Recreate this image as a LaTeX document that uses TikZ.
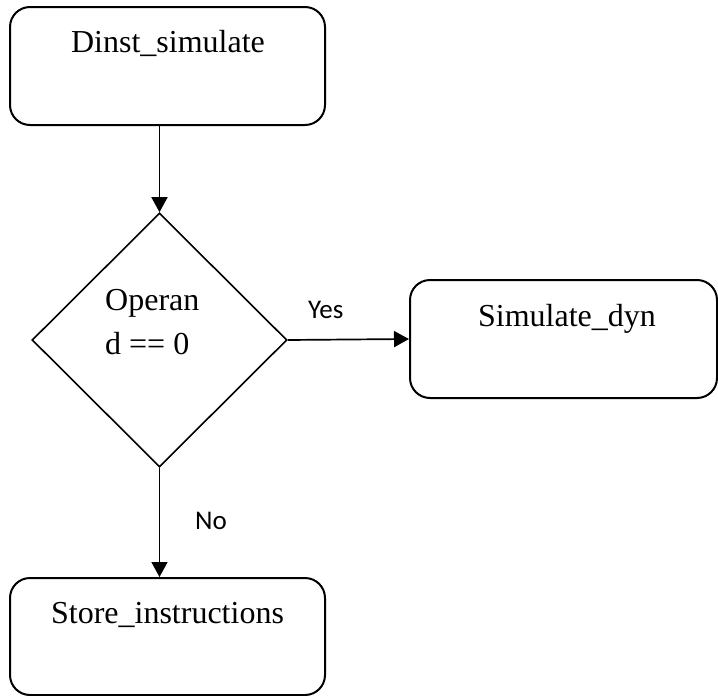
\documentclass[tikz,border=0pt]{standalone}
\usepackage{fontspec}
\setmainfont{Liberation Serif}
\newfontfamily\lblfont{Carlito}
\usetikzlibrary{shapes.geometric,arrows.meta}
\begin{document}
\begin{tikzpicture}[x=1pt,y=-1pt,
  procbox/.style={draw,line width=2pt,rounded corners=20pt,minimum width=#1,inner sep=0pt},
  boxtext/.style={anchor=base,inner sep=0pt,font=\fontsize{32}{38}\selectfont},
  edgelbl/.style={anchor=base west,inner sep=0pt,font=\lblfont\fontsize{27}{32}\selectfont},
  conn/.style={line width=1.7pt,-{Triangle[length=15pt,width=16pt]}}]
\useasboundingbox (0,0) rectangle (718,696);
% boxes
\node[procbox=315pt,minimum height=118pt] (start) at (167.5,66) {};
\node[boxtext] (starttxt) at (168,52) {Dinst\_simulate};
\node[draw,diamond,line width=1.6pt,minimum width=255pt,minimum height=254pt,inner sep=0pt] (dec) at (159.5,340) {};
\node[anchor=base west,inner sep=0pt,font=\fontsize{32}{44}\selectfont,align=left] (dectxt) at (105,354) {Operan\\d == 0};
\node[procbox=307pt,minimum height=118pt] (sim) at (563.5,339) {};
\node[boxtext] (simtxt) at (567,326) {Simulate\_dyn};
\node[procbox=315pt,minimum height=117pt] (store) at (167.5,636.5) {};
\node[boxtext] (storetxt) at (167.5,623) {Store\_instructions};
% connectors
\draw[conn] (start.south -| dec.north) -- (dec.north);
\draw[conn] (dec.east) -- (sim.west);
\draw[conn] (dec.south) -- (dec.south |- store.north);
% labels
\node[edgelbl] (yes) at (308,318) {Yes};
\node[edgelbl] (no) at (195,529) {No};
\end{tikzpicture}
\end{document}
